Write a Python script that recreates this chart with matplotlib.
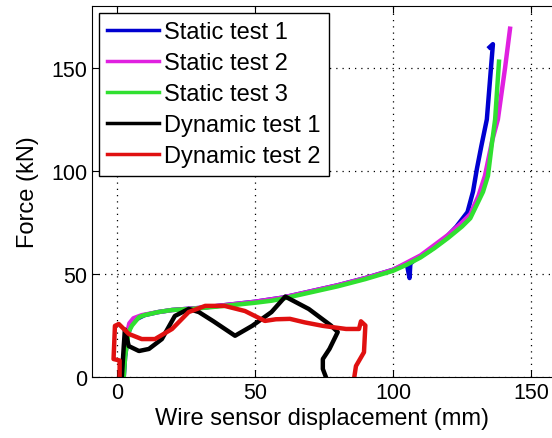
import numpy as np
import matplotlib
matplotlib.use("Agg")
import matplotlib.pyplot as plt

plt.rcParams['font.family'] = ['Liberation Sans', 'DejaVu Sans']

# force-displacement curves (mm, kN)
s1_x = [2.5, 3, 4, 5, 7, 10, 15, 20, 30, 40, 50, 60, 70, 80, 90, 100, 105, 106, 106.3, 108,
        113, 118, 123, 127, 129, 130.4, 132, 134, 135.5, 136.2, 135]
s1_y = [0, 10, 20, 25, 28, 30, 31.5, 32.5, 33.5, 35, 36.5, 38.5, 41.5, 44.5, 48, 52, 55, 48, 55, 57,
        61, 66, 73, 80, 90, 101, 112, 125, 150, 161.5, 160]
s2_x = [2, 2.5, 3.5, 4.5, 6, 9, 15, 20, 30, 40, 50, 60, 70, 80, 90, 100, 105, 110, 115, 120,
        125, 128, 131, 133.3, 136, 138, 140.6, 142.4]
s2_y = [0, 10, 20, 26, 28.5, 30, 31.5, 32.5, 33.5, 35, 36.5, 38.5, 41.5, 44.5, 48, 52, 55.5, 59, 64, 69,
        75, 79, 88, 97.6, 115, 125, 150, 169]
s3_x = [2.5, 3, 4.3, 5.5, 8, 10, 15, 20, 27, 39, 50, 56, 60, 70, 80, 90, 100, 105, 110, 115, 120,
        125, 128, 132.6, 134.4, 136, 137, 138.4]
s3_y = [0, 10, 22, 25, 29, 30, 31.5, 32.5, 33, 34.5, 36, 37, 38, 41, 44, 47.5, 51.5, 54.5, 58, 62.5, 67.5,
        73, 77, 89.8, 97.6, 115, 125, 153]
d1_x = [1.8, 2.5, 2.9, 4.3, 8, 11.6, 16.3, 21, 26, 29.7, 35, 42.8, 49, 56, 61, 69.5, 77.5,
        80, 77, 74.6, 74.6, 75.7]
d1_y = [0, 15, 23, 15, 12.6, 13.6, 18.4, 29.6, 33, 31.5, 27, 20, 24.8, 31.5, 39, 33, 25,
        21.8, 13.6, 8.7, 3.9, 0]
d2_x = [1, 1, -1.2, -1, -0.7, 0.7, 4.3, 9, 13.8, 20, 26, 32, 39, 46.4, 53.6, 57.6, 62.7, 68,
        74.6, 83, 87.7, 88.4, 90, 89.5, 86.6, 86]
d2_y = [0, 8, 8.7, 15, 24.8, 25.7, 20.9, 18.4, 18.4, 23.3, 31.5, 34.5, 34.5, 32, 27.2, 28, 28.2, 26.5,
        24.8, 23.3, 23.3, 27, 25, 12, 5.3, 0]

labels = ["Static test 1", "Static test 2", "Static test 3", "Dynamic test 1", "Dynamic test 2"]
colors = ["#0000d0", "#e020e0", "#30e030", "#000000", "#e01010"]

fig = plt.figure(figsize=(5.52, 4.39), dpi=100)
ax = fig.add_axes([0.1667, 0.139, 0.8333, 0.845])

for xs, ys, c, lab in zip([s1_x, s2_x, s3_x, d1_x, d2_x], [s1_y, s2_y, s3_y, d1_y, d2_y], colors, labels):
    ax.plot(xs, ys, color=c, lw=3.2, label=lab, solid_joinstyle='round')

ax.set_xlim(-9, 157.6)
ax.set_ylim(0, 180)
ax.set_xticks([0, 50, 100, 150])
ax.set_yticks([0, 50, 100, 150])
ax.tick_params(direction='in', top=True, labelsize=15.5, length=5)
ax.spines['right'].set_visible(False)
ax.grid(True, color='black', linestyle=(0, (1, 4)), lw=0.9)

ax.set_xlabel("Wire sensor displacement (mm)", fontsize=17, labelpad=3)
ax.set_ylabel("Force (kN)", fontsize=17, labelpad=9)

leg = ax.legend(loc='upper left', fontsize=17, fancybox=False, framealpha=1, edgecolor='black',
                handlelength=2.2, handletextpad=0.2, borderaxespad=0.3, borderpad=0.35,
                labelspacing=0.38)
leg.get_frame().set_linewidth(1)
for h in leg.get_lines():
    h.set_linewidth(2.5)

fig.savefig("out.png", dpi=100)
